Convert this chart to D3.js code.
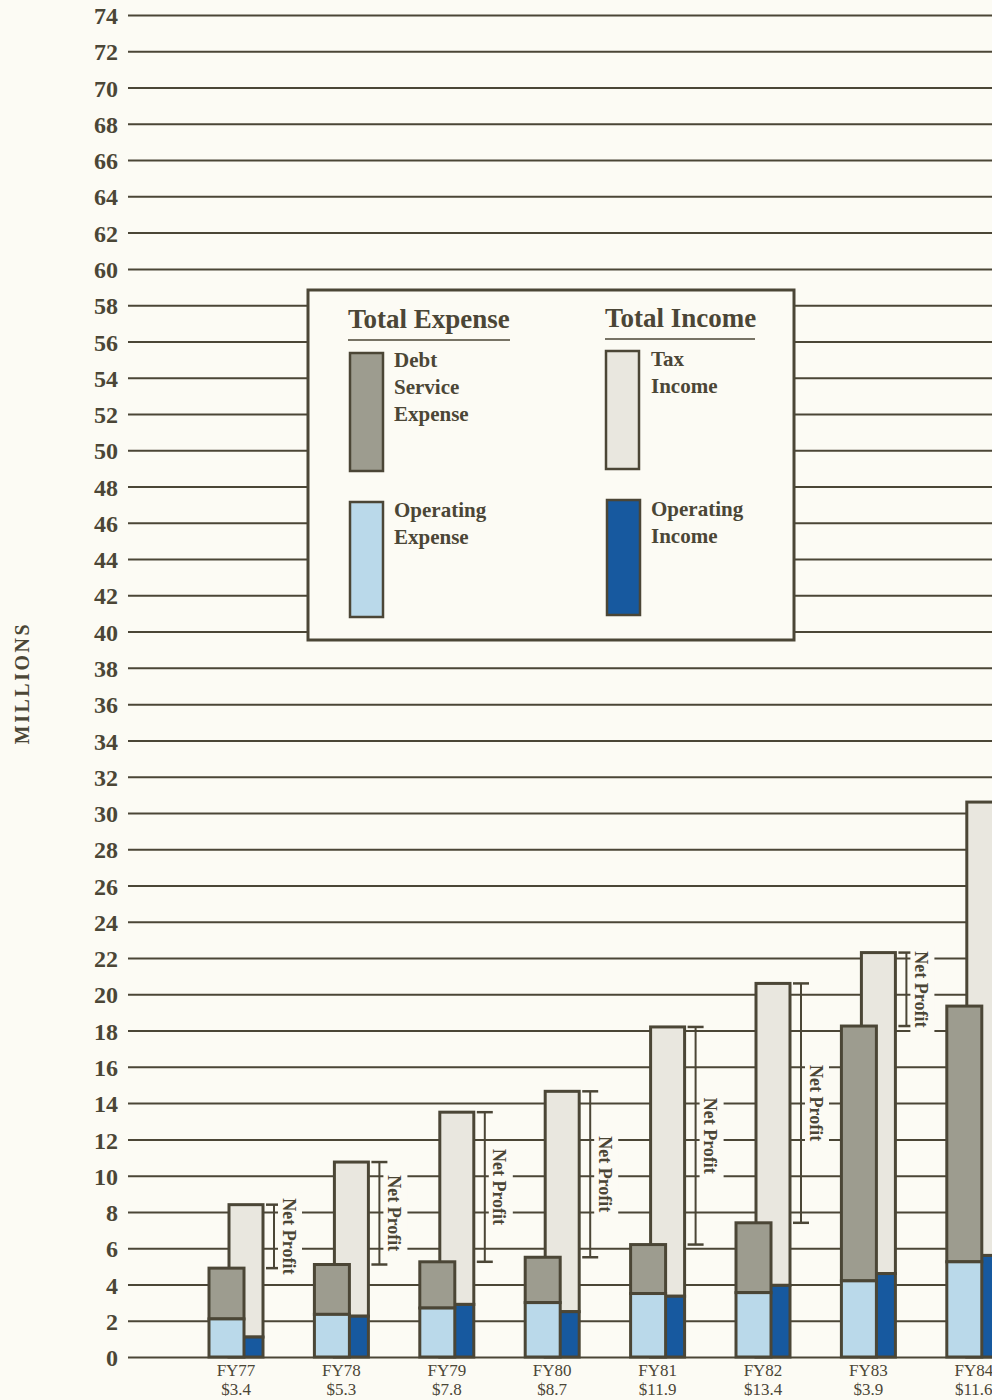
<!DOCTYPE html>
<html>
<head>
<meta charset="utf-8">
<script src="https://cdn.jsdelivr.net/npm/d3@7"></script>
<style>
  body { margin: 0; background: #fcfbf4; }
  svg { display: block; }
  .tick text { font-family: "Liberation Serif", "DejaVu Serif", serif; font-weight: bold; font-size: 24px; fill: #4b4636; }
</style>
</head>
<body>
<div id="chart"></div>
<script>
var width = 992;
var height = 1400;
var bg = "#fcfbf4";
var ink = "#4b4636";

// values in millions
var years = ["FY77", "FY78", "FY79", "FY80", "FY81", "FY82", "FY83", "FY84"];
var netProfitLabels = ["$3.4", "$5.3", "$7.8", "$8.7", "$11.9", "$13.4", "$3.9", "$11.6"];
var operatingExpense = [2.1, 2.35, 2.7, 3.0, 3.5, 3.55, 4.2, 5.25];
var debtServiceExpense = [2.8, 2.75, 2.55, 2.5, 2.7, 3.85, 14.05, 14.1];
var operatingIncome = [1.1, 2.25, 2.9, 2.5, 3.35, 3.95, 4.6, 5.6];
var taxIncome = [7.3, 8.5, 10.6, 12.15, 14.85, 16.65, 17.7, 25.0];
var yTicks = d3.range(0, 75, 2);

var colors = {
    debt: "#9d9c8f",
    opExp: "#bad9ea",
    opInc: "#17599f",
    tax: "#e9e7df"
};

var svg = d3.select("#chart")
    .append("svg")
      .attr("width", width)
      .attr("height", height);

var y = d3.scaleLinear().domain([0, 74]).range([1357, 15]);
var x = d3.scaleBand().domain(years).range([192, 1035.2]).paddingInner(0);

var expW = 35, incOff = 20, incW = 34;

// grid + tick labels
svg.append("g")
    .attr("transform", "translate(128,0)")
    .call(d3.axisLeft(y).tickValues(yTicks).tickSize(-(width - 128)).tickPadding(10))
    .call(function(g) { g.select(".domain").remove(); })
    .call(function(g) {
        g.selectAll(".tick line").attr("stroke", ink).attr("stroke-width", 2);
        g.selectAll(".tick text").attr("dy", "0.36em");
    });

svg.append("text")
    .attr("transform", "translate(29,683) rotate(-90)")
    .attr("text-anchor", "middle")
    .attr("font-family", "Liberation Serif, serif")
    .attr("font-weight", "bold")
    .attr("font-size", "20px")
    .attr("letter-spacing", "2.5px")
    .attr("fill", ink)
    .text("MILLIONS");

// legend box
var lg = svg.append("g");
lg.append("rect")
    .attr("x", 308).attr("y", 290).attr("width", 486).attr("height", 350)
    .attr("fill", bg).attr("stroke", ink).attr("stroke-width", 3);

var legendHeads = [
    { text: "Total Expense", x: 348, y: 328, x2: 510 },
    { text: "Total Income", x: 605, y: 327, x2: 755 }
];
lg.selectAll("text.head")
    .data(legendHeads)
    .enter().append("text")
    .attr("class", "head")
    .attr("x", function(d) { return d.x; })
    .attr("y", function(d) { return d.y; })
    .attr("font-family", "Liberation Serif, serif")
    .attr("font-weight", "bold")
    .attr("font-size", "27px")
    .attr("fill", ink)
    .text(function(d) { return d.text; });
lg.selectAll("line.head")
    .data(legendHeads)
    .enter().append("line")
    .attr("x1", function(d) { return d.x; })
    .attr("x2", function(d) { return d.x2; })
    .attr("y1", function(d) { return d.y + 12; })
    .attr("y2", function(d) { return d.y + 12; })
    .attr("stroke", ink).attr("stroke-width", 1.5);

var legendItems = [
    { fill: colors.debt, x: 350, y: 353, h: 118, lines: ["Debt", "Service", "Expense"], tx: 394, ty: 367 },
    { fill: colors.opExp, x: 350, y: 502, h: 115, lines: ["Operating", "Expense"], tx: 394, ty: 517 },
    { fill: colors.tax, x: 606, y: 351, h: 118, lines: ["Tax", "Income"], tx: 651, ty: 366 },
    { fill: colors.opInc, x: 607, y: 500, h: 115, lines: ["Operating", "Income"], tx: 651, ty: 516 }
];
var li = lg.selectAll("g.item")
    .data(legendItems)
    .enter().append("g");
li.append("rect")
    .attr("x", function(d) { return d.x; })
    .attr("y", function(d) { return d.y; })
    .attr("width", 33)
    .attr("height", function(d) { return d.h; })
    .attr("fill", function(d) { return d.fill; })
    .attr("stroke", ink).attr("stroke-width", 2.5);
li.append("text")
    .attr("font-family", "Liberation Serif, serif")
    .attr("font-weight", "bold")
    .attr("font-size", "21px")
    .attr("fill", ink)
    .selectAll("tspan")
    .data(function(d) { return d.lines.map(function(t, i) { return { t: t, x: d.tx, y: d.ty + i * 27 }; }); })
    .enter().append("tspan")
    .attr("x", function(d) { return d.x; })
    .attr("y", function(d) { return d.y; })
    .text(function(d) { return d.t; });

// bars
var data = years.map(function(yr, i) {
    return {
        year: yr,
        label: netProfitLabels[i],
        opExp: operatingExpense[i],
        expTotal: operatingExpense[i] + debtServiceExpense[i],
        opInc: operatingIncome[i],
        incTotal: operatingIncome[i] + taxIncome[i]
    };
});

var group = svg.append("g").selectAll("g")
    .data(data)
    .enter().append("g");

function seg(sel, x0, w, lo, hi, fill) {
    sel.append("rect")
        .attr("x", x0).attr("width", w)
        .attr("y", function(d) { return y(hi(d)); })
        .attr("height", function(d) { return y(lo(d)) - y(hi(d)); })
        .attr("fill", fill)
        .attr("stroke", ink).attr("stroke-width", 3);
}

group.each(function(d) {
    var g = d3.select(this);
    var ex = x(d.year) + 17;
    var ix = ex + incOff;
    // income bar behind
    seg(g, ix, incW, function(d) { return d.opInc; }, function(d) { return d.incTotal; }, colors.tax);
    seg(g, ix, incW, function() { return 0; }, function(d) { return d.opInc; }, colors.opInc);
    // expense bar in front
    seg(g, ex, expW, function(d) { return d.opExp; }, function(d) { return d.expTotal; }, colors.debt);
    seg(g, ex, expW, function() { return 0; }, function(d) { return d.opExp; }, colors.opExp);

    // net profit bracket
    var bx = ix + incW + 11;
    var top = y(d.incTotal), bot = y(d.expTotal), mid = (top + bot) / 2;
    g.append("line").attr("x1", bx).attr("x2", bx).attr("y1", top).attr("y2", bot)
        .attr("stroke", ink).attr("stroke-width", 2);
    g.selectAll("line.cap").data([top, bot]).enter().append("line")
        .attr("x1", bx - 8).attr("x2", bx + 8)
        .attr("y1", function(v) { return v; }).attr("y2", function(v) { return v; })
        .attr("stroke", ink).attr("stroke-width", 2.5);
    g.append("rect")
        .attr("x", bx + 4).attr("y", mid - 44)
        .attr("width", 24).attr("height", 88)
        .attr("fill", bg);
    g.append("text")
        .attr("transform", "translate(" + (bx + 15) + "," + mid + ") rotate(90)")
        .attr("text-anchor", "middle")
        .attr("dy", "0.35em")
        .attr("font-family", "Liberation Serif, serif")
        .attr("font-weight", "bold")
        .attr("font-size", "18px")
        .attr("fill", ink)
        .text("Net Profit");

    // category labels
    var cx = ex + 27;
    g.append("text").attr("x", cx).attr("y", 1376)
        .attr("text-anchor", "middle")
        .attr("font-family", "Liberation Serif, serif")
        .attr("font-size", "17px").attr("fill", ink)
        .text(d.year);
    g.append("text").attr("x", cx).attr("y", 1395)
        .attr("text-anchor", "middle")
        .attr("font-family", "Liberation Serif, serif")
        .attr("font-size", "17px").attr("fill", ink)
        .text(d.label);
});
</script>
</body>
</html>
